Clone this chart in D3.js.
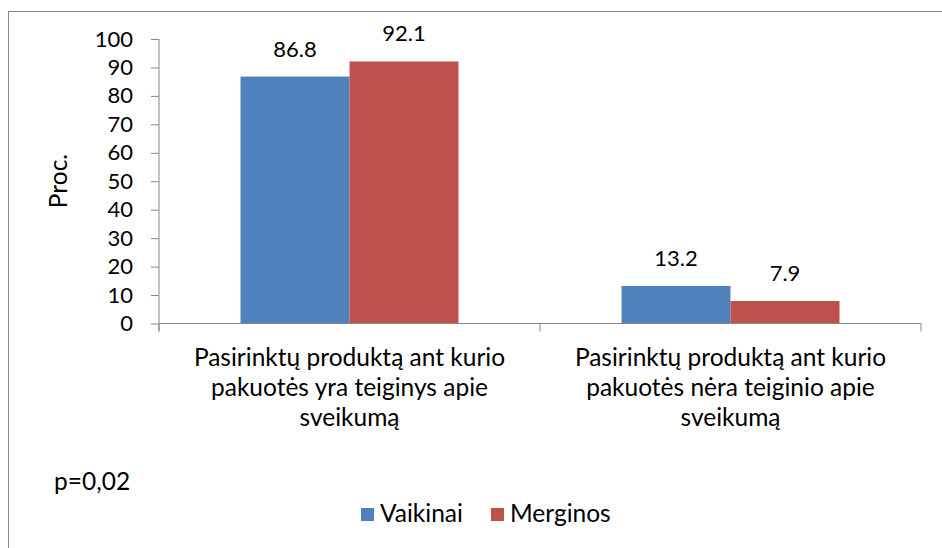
<!DOCTYPE html>
<html>
<head>
<meta charset="utf-8">
<script src="https://cdn.jsdelivr.net/npm/d3@7"></script>
<style>
    body { margin: 0; background: #fff; }
    svg text { font-family: Lato, "Liberation Sans", sans-serif; fill: #000; }
</style>
</head>
<body>
<svg id="chart" width="942" height="548"></svg>
<script>
// data
const categories = [
    ["Pasirinktų produktą ant kurio", "pakuotės yra teiginys apie", "sveikumą"],
    ["Pasirinktų produktą ant kurio", "pakuotės nėra teiginio apie", "sveikumą"]
]
const seriesNames = ["Vaikinai", "Merginos"]
const seriesColors = ["#4F81BD", "#C0504D"]
const vaikinai = [86.8, 13.2]
const merginos = [92.1, 7.9]
const yTicks = [0, 10, 20, 30, 40, 50, 60, 70, 80, 90, 100]
const yTitle = "Proc."
const note = "p=0,02"

const values = [vaikinai, merginos]
const axisColor = "#868686"
const numSize = 22   // digits
const textSize = 24.5  // words

const svg = d3.select("#chart")

// outer frame (cut off by the window on the right and bottom)
svg.append("rect")
    .attr("x", 8.5).attr("y", 11.5)
    .attr("width", 1000).attr("height", 1000)
    .attr("fill", "none").attr("stroke", axisColor)

// plot area
const plot = {left: 159, right: 921, top: 39, bottom: 323.5}

const catIdx = categories.map((d, i) => i)
const x0 = d3.scaleBand().domain(catIdx).range([plot.left, plot.right])
const gap = 81.5
const x1 = d3.scaleBand().domain(seriesNames).range([gap, x0.bandwidth() - gap])
const y = d3.scaleLinear().domain([0, 100]).range([plot.bottom, plot.top])

// bars
const g = svg.append("g")
seriesNames.forEach((s, si) => {
    g.selectAll(null)
        .data(values[si])
        .join("rect")
        .attr("x", (d, i) => x0(i) + x1(s))
        .attr("y", d => y(d))
        .attr("width", x1.bandwidth())
        .attr("height", d => y(0) - y(d))
        .attr("fill", seriesColors[si])

    g.selectAll(null)
        .data(values[si])
        .join("text")
        .attr("x", (d, i) => x0(i) + x1(s) + x1.bandwidth() / 2)
        .attr("y", d => y(d) - 20)
        .attr("text-anchor", "middle")
        .style("font-size", numSize + "px")
        .text(d => d.toFixed(1))
})

// y axis
const yAxis = svg.append("g")
    .attr("transform", `translate(${plot.left},0)`)
    .call(d3.axisLeft(y).tickValues(yTicks).tickSize(8).tickSizeOuter(0).tickPadding(18))
yAxis.select(".domain").remove()
yAxis.selectAll("line").attr("stroke", axisColor)
yAxis.selectAll("text")
    .style("font-size", numSize + "px")
    .style("font-family", "Lato, 'Liberation Sans', sans-serif")
    .attr("fill", "#000")
yAxis.append("line")
    .attr("x1", 0).attr("x2", 0)
    .attr("y1", y(100)).attr("y2", y(0) + 8)
    .attr("stroke", axisColor)

// x axis
const xa = svg.append("g").attr("transform", `translate(0,${y(0)})`)
xa.append("line")
    .attr("x1", plot.left).attr("x2", plot.right)
    .attr("stroke", axisColor)
const bounds = catIdx.map(i => x0(i)).concat([x0(catIdx[catIdx.length - 1]) + x0.bandwidth()])
xa.selectAll(null).data(bounds).join("line")
    .attr("x1", d => d).attr("x2", d => d)
    .attr("y1", 0).attr("y2", 8)
    .attr("stroke", axisColor)

// category labels
const catText = svg.selectAll(null).data(categories).join("text")
    .attr("text-anchor", "middle")
    .style("font-size", textSize + "px")
catText.each(function(lines, i) {
    d3.select(this).selectAll("tspan").data(lines).join("tspan")
        .attr("x", x0(i) + x0.bandwidth() / 2)
        .attr("y", (d, k) => 366 + k * 30)
        .text(d => d)
})

// y title
svg.append("text")
    .attr("transform", "translate(67,181) rotate(-90)")
    .attr("text-anchor", "middle")
    .style("font-size", textSize + "px")
    .text(yTitle)

// note
svg.append("text")
    .attr("x", 54).attr("y", 490)
    .style("font-size", textSize + "px")
    .text(note)

// legend
const legendX = [361, 491]
const legend = svg.selectAll(null).data(seriesNames).join("g")
    .attr("transform", (d, i) => `translate(${legendX[i]},508)`)
legend.append("rect")
    .attr("width", 13).attr("height", 13)
    .attr("fill", (d, i) => seriesColors[i])
legend.append("text")
    .attr("x", 19).attr("y", 14)
    .style("font-size", textSize + "px")
    .text(d => d)
</script>
</body>
</html>
